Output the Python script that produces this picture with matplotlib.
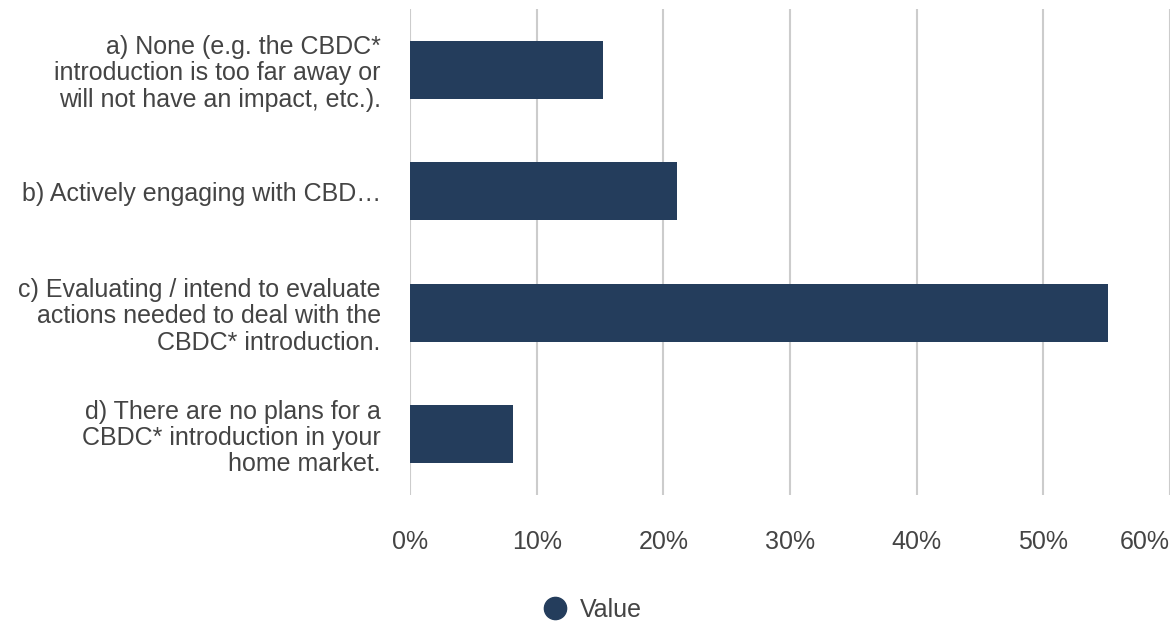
import matplotlib
matplotlib.use("Agg")
import matplotlib.pyplot as plt
from matplotlib.lines import Line2D
from matplotlib.ticker import FuncFormatter

categories = [
    "a) None (e.g. the CBDC*\nintroduction is too far away or\nwill not have an impact, etc.).",
    "b) Actively engaging with CBD\u2026",
    "c) Evaluating / intend to evaluate\nactions needed to deal with the\nCBDC* introduction.",
    "d) There are no plans for a\nCBDC* introduction in your\nhome market.",
]
values = [0.152, 0.211, 0.551, 0.081]
xticks = [0, 0.1, 0.2, 0.3, 0.4, 0.5, 0.6]
series_name = "Value"

BAR = "#243d5c"
TXT = "#444444"
GRID = "#cccccc"

plt.rcParams['font.family'] = ['Liberation Sans', 'DejaVu Sans']

W, H = 1171, 623
fig = plt.figure(figsize=(W / 100, H / 100), dpi=100)
ax = fig.add_axes([410 / W, 1 - 495 / H, 760 / W, 486 / H])

ypos = list(range(len(categories)))
ax.barh(ypos, values, height=0.477, color=BAR, zorder=3)
ax.set_ylim(len(categories) - 0.5, -0.5)
ax.set_xlim(0, 0.6)

ax.set_xticks(xticks)
ax.xaxis.set_major_formatter(FuncFormatter(lambda v, p: f"{v*100:.0f}%"))
ax.grid(axis='x', color=GRID, linewidth=1.5, zorder=0)
ax.set_axisbelow(True)
for s in ax.spines.values():
    s.set_visible(False)
ax.tick_params(axis='x', length=0, pad=25, labelsize=18, labelcolor=TXT)
ax.tick_params(axis='y', length=0, pad=21, labelsize=18, labelcolor=TXT)
ax.set_yticks(ypos)
ax.set_yticklabels(categories, ha='right', multialignment='right', linespacing=1.13)

labels = ax.get_xticklabels()
labels[-1].set_horizontalalignment('right')
labels[-1].set_x(0.6)

handle = Line2D([], [], marker='o', linestyle='none', markersize=16,
                markerfacecolor=BAR, markeredgecolor=BAR)
fig.legend([handle], [series_name], loc='center',
           bbox_to_anchor=(592 / W, 1 - 610 / H), frameon=False,
           fontsize=18, labelcolor=TXT, handletextpad=0.5, handlelength=1.0)

fig.savefig("out.png", dpi=100)
